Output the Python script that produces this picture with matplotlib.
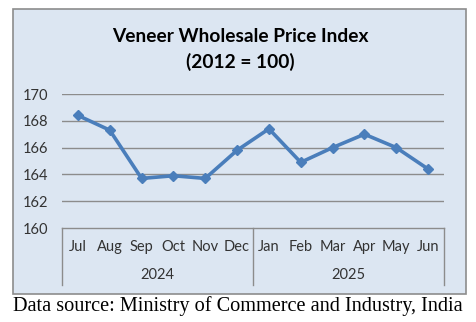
import matplotlib
matplotlib.use('Agg')
import matplotlib.pyplot as plt
from matplotlib.patches import Rectangle
from matplotlib.lines import Line2D

months = ['Jul', 'Aug', 'Sep', 'Oct', 'Nov', 'Dec',
          'Jan', 'Feb', 'Mar', 'Apr', 'May', 'Jun']
years = ['2024', '2025']
year_spans = [(0, 5), (6, 11)]
index_values = [168.4, 167.3, 163.7, 163.9, 163.7, 165.8,
                167.4, 164.9, 166.0, 167.0, 166.0, 164.4]
y_ticks = [160, 162, 164, 166, 168, 170]

W, H = 476, 322
fig = plt.figure(figsize=(W / 100, H / 100), dpi=100)
fig.patch.set_facecolor('white')

# chart area box
fig.patches.append(Rectangle((13 / W, 1 - 294 / H), 453 / W, 285 / H,
                             transform=fig.transFigure, facecolor='#dce6f2',
                             edgecolor='#8c8c8c', linewidth=1.2, zorder=-5))

font = ['Lato', 'DejaVu Sans']
ax = fig.add_axes([62 / W, 1 - 228 / H, 382 / W, 134 / H])
ax.set_facecolor('none')
ax.set_zorder(2)

x = list(range(len(months)))
ax.plot(x, index_values, color='#4a7ebb', linewidth=2.6, marker='D',
        markersize=5.5, zorder=3)

ax.set_xlim(-0.5, len(months) - 0.5)
ax.set_ylim(160, 170)
ax.set_yticks(y_ticks)
ax.set_yticklabels([str(t) for t in y_ticks], family=font, fontsize=10.5, color='#333333')
ax.tick_params(axis='y', length=0, pad=10)
ax.set_xticks([])
for t in y_ticks[1:]:
    ax.axhline(t, color='#8c8c8c', linewidth=1.0, zorder=1)
for s in ['top', 'right', 'left']:
    ax.spines[s].set_visible(False)
ax.spines['bottom'].set_color('#8c8c8c')
ax.spines['bottom'].set_linewidth(1.0)

# multi-level category axis
for i, m in enumerate(months):
    ax.text(i, -0.142, m, transform=ax.get_xaxis_transform(), ha='center',
            va='center', family=font, fontsize=10.5, color='#333333')
for yr, (a, b) in zip(years, year_spans):
    ax.text((a + b) / 2, -0.351, yr, transform=ax.get_xaxis_transform(),
            ha='center', va='center', family=font, fontsize=10.5, color='#333333')
for xv in [-0.5, 5.5, 11.5]:
    ax.add_line(Line2D([xv, xv], [0, -0.425], transform=ax.get_xaxis_transform(),
                       color='#8c8c8c', linewidth=1.0, clip_on=False))

fig.text(240 / W, 1 - 37 / H, 'Veneer Wholesale Price Index', ha='center', va='center',
         family=font, fontsize=13.8, fontweight='bold', color='black')
fig.text(240 / W, 1 - 62 / H, '(2012 = 100)', ha='center', va='center',
         family=font, fontsize=13.8, fontweight='bold', color='black')

fig.text(13 / W, 1 - 306 / H, 'Data source: Ministry of Commerce and Industry, India',
         ha='left', va='center', family=['Liberation Serif'], fontsize=14.6, color='black')

fig.savefig('out.png', dpi=100)
